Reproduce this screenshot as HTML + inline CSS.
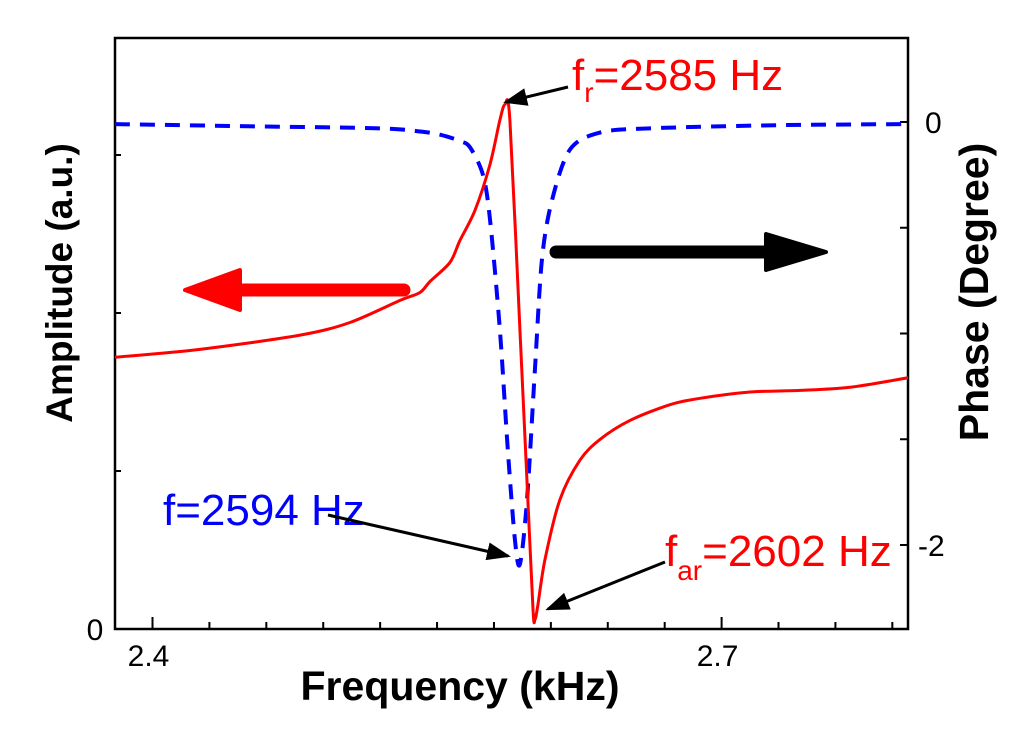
<!DOCTYPE html>
<html><head><meta charset="utf-8"><style>
body{margin:0;background:#fff;}
svg{display:block;font-family:"Liberation Sans",Arial,sans-serif;}
</style></head><body>
<svg id="chart" width="1024" height="737" viewBox="0 0 1024 737">
<defs>
<marker id="ah" markerWidth="8" markerHeight="6" refX="7" refY="3" orient="auto" markerUnits="strokeWidth"><path d="M0,0 L8,3 L0,6 Z" fill="#000"/></marker>
<clipPath id="pc"><rect x="115" y="38" width="793" height="591"/></clipPath>
</defs>
<rect x="115" y="38" width="793" height="591" fill="none" stroke="#000" stroke-width="2.5"/>
<g id="ticks"></g>
<g id="series" clip-path="url(#pc)"></g>
<text x="0" y="0" transform="translate(72,283) rotate(-90)" text-anchor="middle" font-size="37" font-weight="bold">Amplitude (a.u.)</text>
<text x="0" y="0" transform="translate(988,292) rotate(-90)" text-anchor="middle" font-size="41" font-weight="bold">Phase (Degree)</text>
<text x="460" y="700" text-anchor="middle" font-size="41" font-weight="bold">Frequency (kHz)</text>
<text x="572" y="90" font-size="44" fill="#f00">f<tspan font-size="28" dy="12">r</tspan><tspan dy="-12">=2585 Hz</tspan></text>
<line x1="568" y1="87" x2="506" y2="102" stroke="#000" stroke-width="3" marker-end="url(#ah)"/>
<text x="163" y="525" font-size="44" fill="#00f">f=2594 Hz</text>
<line x1="328" y1="515" x2="508" y2="556" stroke="#000" stroke-width="3" marker-end="url(#ah)"/>
<text x="665" y="566" font-size="44" fill="#f00">f<tspan font-size="28" dy="14">ar</tspan><tspan dy="-14">=2602 Hz</tspan></text>
<line x1="665" y1="562" x2="548" y2="609" stroke="#000" stroke-width="3" marker-end="url(#ah)"/>
<g>
<line x1="404" y1="290" x2="235" y2="290" stroke="#f00" stroke-width="13" stroke-linecap="round"/>
<path d="M185,290 L240,270 L240,310 Z" fill="#f00" stroke="#f00" stroke-width="4" stroke-linejoin="round"/>
</g>
<g>
<line x1="556" y1="252" x2="770" y2="252" stroke="#000" stroke-width="13" stroke-linecap="round"/>
<path d="M826,252 L766,234 L766,270 Z" fill="#000" stroke="#000" stroke-width="4" stroke-linejoin="round"/>
</g>
</svg>
<script>
const xTicks = [2.4,2.43,2.46,2.49,2.52,2.55,2.58,2.61,2.64,2.67,2.7,2.73,2.76,2.79];
const xLabels = ["2.4","2.7"];
const xLabelVals = [2.4,2.7];
const ampTicks = [0,1,2,3];
const ampLabels = ["0"];
const phaseTicks = [0,-0.5,-1,-1.5,-2];
const phaseLabels = ["0","-2"];
const phaseLabelVals = [0,-2];
const ampFreq = [2.3802,2.4250,2.4778,2.5041,2.5305,2.5410,2.5463,2.5568,2.5621,2.5700,2.5779,2.5831,2.5858,2.5884,2.5937,2.5974,2.6006,2.6016,2.6030,2.6069,2.6148,2.6254,2.6359,2.6517,2.6728,2.6886,2.7150,2.7414,2.7677,2.7983];
const ampVals = [1.72,1.77,1.86,1.94,2.08,2.13,2.20,2.32,2.46,2.65,2.94,3.22,3.32,3.22,1.89,0.94,0.12,0.06,0.14,0.44,0.82,1.07,1.20,1.32,1.42,1.46,1.50,1.51,1.53,1.59];
const phaseFreq = [2.3802,2.4500,2.5200,2.5410,2.5516,2.5621,2.5674,2.5742,2.5779,2.5831,2.5873,2.5911,2.5937,2.5974,2.6016,2.6053,2.6106,2.6201,2.6359,2.6622,2.7300,2.7983];
const phaseVals = [-0.01,-0.02,-0.03,-0.045,-0.06,-0.09,-0.12,-0.25,-0.46,-0.98,-1.55,-1.98,-2.09,-1.79,-1.17,-0.65,-0.37,-0.13,-0.05,-0.03,-0.015,-0.01];
const NS = "http://www.w3.org/2000/svg";
function xS(f){return 152.5 + (f-2.4)*1897;}
function yA(a){return 629 - a*158;}
function yP(p){return 122 - p*211.5;}
const tg = document.getElementById('ticks');
const sg = document.getElementById('series');
function mk(tag, attrs, parent){const e=document.createElementNS(NS,tag);for(const k in attrs)e.setAttribute(k,attrs[k]);parent.appendChild(e);return e;}
function smooth(pts){
  let d='M'+pts[0][0]+','+pts[0][1];
  for(let i=0;i<pts.length-1;i++){
    const p0=pts[Math.max(0,i-1)],p1=pts[i],p2=pts[i+1],p3=pts[Math.min(pts.length-1,i+2)];
    const t=0.15;
    d+=' C'+(p1[0]+(p2[0]-p0[0])*t)+','+(p1[1]+(p2[1]-p0[1])*t)+' '+(p2[0]-(p3[0]-p1[0])*t)+','+(p2[1]-(p3[1]-p1[1])*t)+' '+p2[0]+','+p2[1];
  }
  return d;
}
xTicks.forEach(v=>{
  const major = Math.abs(v-2.4)<1e-6||Math.abs(v-2.7)<1e-6;
  const t = mk('line',{x1:xS(v),x2:xS(v),y1:629,y2:major?617:622,stroke:'#000','stroke-width':2},tg);
  
  
});
xLabels.forEach((s,i)=>{
  const t = mk('text',{x:xS(xLabelVals[i])-4,y:666,'text-anchor':'middle','font-size':30},tg);
  t.textContent=s;
  
  
});
ampTicks.forEach(v=>{
  const t = mk('line',{x1:115,x2:121,y1:yA(v),y2:yA(v),stroke:'#000','stroke-width':2},tg);
  
  
});
ampLabels.forEach((s,i)=>{
  const t = mk('text',{x:95,y:yA(ampTicks[i])+11,'text-anchor':'middle','font-size':30},tg);
  t.textContent=s;
  
  
});
phaseTicks.forEach(v=>{
  const t = mk('line',{x1:908,x2:900,y1:yP(v),y2:yP(v),stroke:'#000','stroke-width':2},tg);
  
  
});
phaseLabels.forEach((s,i)=>{
  const t = mk('text',{x:phaseLabelVals[i]<0?918:925,y:yP(phaseLabelVals[i])+11,'font-size':30},tg);
  t.textContent=s;
  
  
});
const ph = mk('path',{d:smooth(phaseFreq.map((f,i)=>[xS(f),yP(phaseVals[i])])),fill:'none',stroke:'#00f','stroke-width':4,'stroke-dasharray':'15 10','stroke-linejoin':'round'},sg);


const am = mk('path',{d:smooth(ampFreq.map((f,i)=>[xS(f),yA(ampVals[i])])),fill:'none',stroke:'#f00','stroke-width':3,'stroke-linejoin':'round'},sg);


</script>
</body></html>
